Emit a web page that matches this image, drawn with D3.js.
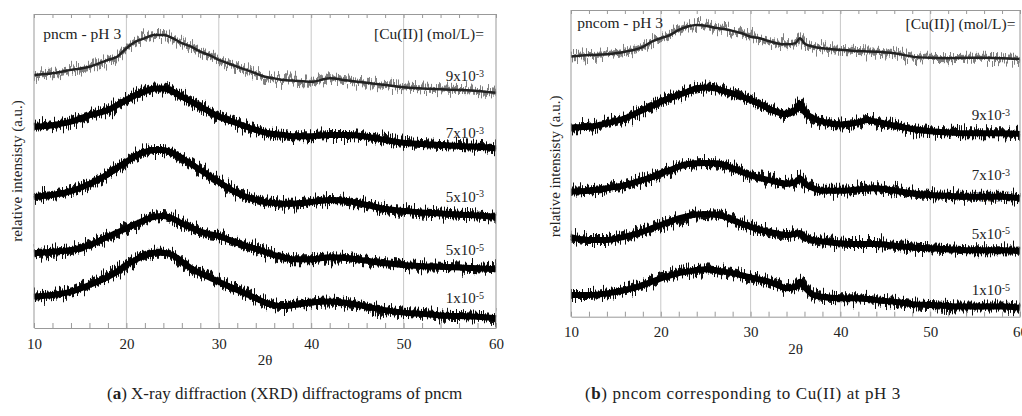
<!DOCTYPE html>
<html><head><meta charset="utf-8">
<script src="https://cdn.jsdelivr.net/npm/d3@7/dist/d3.min.js"></script>
<style>
html,body{margin:0;padding:0;background:#fff;}
svg{display:block;}
text{font-family:"Liberation Serif","Times New Roman",serif;fill:#222;}
</style></head>
<body>
<svg id="chart" width="1022" height="416">
  <defs>
    <filter id="jitterDark" x="-2%" y="-40%" width="104%" height="180%">
      <feTurbulence type="fractalNoise" baseFrequency="0.9 0.02" numOctaves="2" seed="4" result="t"/>
      <feColorMatrix in="t" type="matrix" values="1 0 0 0 0  0 0 0 0 0.5  0 0 0 0 0.5  0 0 0 0 1" result="m"/>
      <feDisplacementMap in="SourceGraphic" in2="m" scale="20" xChannelSelector="G" yChannelSelector="R"/>
    </filter>
    <filter id="jitterLight" x="-2%" y="-40%" width="104%" height="180%">
      <feTurbulence type="fractalNoise" baseFrequency="0.8 0.02" numOctaves="2" seed="9" result="t"/>
      <feColorMatrix in="t" type="matrix" values="1 0 0 0 0  0 0 0 0 0.5  0 0 0 0 0.5  0 0 0 0 1" result="m"/>
      <feDisplacementMap in="SourceGraphic" in2="m" scale="22" xChannelSelector="G" yChannelSelector="R"/>
    </filter>
  </defs>
</svg>
<script>
// ---------- DATA ----------
const xTicks = [10, 20, 30, 40, 50, 60];

// Panel (a) pncm - pH 3
const thetaA = [10,12,14,16,18,19,20,21,22,23,24,25,26,27,28,29,30,31,32,33,34,35,36,37,38,40,42,44,46,48,50,52,54,56,58,60];
const a_9e3 = [80.6,81.1,82.2,83.2,85.4,86.4,89.1,91.2,92.3,93.3,93.3,92.3,90.7,89.6,88.0,86.9,85.4,84.3,83.2,82.2,81.1,80.0,79.5,79.0,78.8,78.4,79.5,78.8,78.1,77.4,76.7,76.3,76.0,75.8,75.5,74.9];
const a_7e3 = [64.1,64.6,65.7,67.8,69.4,71.0,72.6,74.2,75.3,76.3,76.3,75.3,73.7,72.1,70.5,68.9,67.3,66.2,65.2,64.1,63.1,62.2,61.8,61.5,61.1,61.1,61.5,61.5,60.9,59.9,59.0,58.6,58.3,58.0,57.7,57.2];
const a_5e3 = [41.7,42.4,43.6,45.9,49.0,51.0,52.9,54.8,56.1,56.7,56.7,55.7,54.1,52.2,50.3,48.4,46.5,44.6,43.0,41.7,40.8,40.1,39.8,39.6,39.6,40.1,40.8,40.4,39.2,37.9,37.3,36.8,36.5,36.1,35.8,35.4];
const a_5e5 = [23.8,24.3,24.8,26.4,29.1,30.4,31.8,33.1,34.4,35.4,35.7,34.9,33.3,32.0,30.7,29.9,29.3,28.2,27.1,26.1,25.2,24.2,23.2,22.5,21.9,21.9,22.5,22.2,21.4,20.6,20.1,19.7,19.5,19.3,19.0,18.7];
const a_1e5 = [10.0,10.5,11.6,13.7,16.3,17.9,20.1,21.7,23.2,24.0,24.0,23.2,21.1,19.0,17.4,16.1,14.7,13.4,12.1,10.8,9.5,8.1,7.3,7.0,7.3,8.1,8.4,7.9,6.8,5.7,4.9,4.5,4.0,3.8,3.6,3.1];

// Panel (b) pncom - pH 3
const thetaB = [10,12,14,16,18,19,20,21,22,23,24,25,26,27,28,29,30,31,32,33,34,35,35.5,36,37,38,40,42,43,44,46,48,50,52,54,56,58,60];
const b_top = [84.8,85.3,85.6,86.4,88.0,89.7,90.8,91.8,93.5,94.6,95.1,94.9,94.2,93.8,93.2,92.4,91.3,90.8,89.9,89.1,88.8,89.2,90.8,89.1,88.0,87.5,87.0,86.6,86.5,86.4,85.9,84.8,84.4,84.3,84.4,84.4,84.3,84.0];
const b_9e3 = [61.7,61.9,63.1,64.7,67.4,68.7,70.1,71.3,72.3,73.4,74.5,74.7,74.5,73.6,72.8,71.8,70.7,69.4,67.9,66.7,66.1,67.4,69.4,66.8,64.7,63.6,62.7,63.4,64.1,63.6,62.3,61.2,60.5,60.1,59.8,59.8,59.8,59.6];
const b_7e3 = [40.8,41.1,41.9,42.9,44.6,45.5,46.8,47.8,48.9,49.8,50.0,50.1,50.0,49.5,48.4,47.2,46.2,45.2,44.6,43.9,43.3,43.9,45.1,43.5,41.9,41.1,41.1,41.5,41.8,41.9,41.1,40.2,39.7,39.4,39.1,39.1,39.1,38.6];
const b_5e5 = [25.9,25.0,25.0,26.1,27.7,28.8,29.9,31.0,32.1,32.8,33.3,33.5,33.3,32.7,31.5,30.4,29.3,28.4,27.7,27.1,26.6,27.0,27.3,25.9,25.0,24.5,23.9,23.7,23.7,23.7,23.1,22.6,22.3,22.0,21.7,21.7,21.7,21.5];
const b_1e5 = [7.1,7.1,7.6,8.7,10.3,11.4,12.5,13.4,14.2,14.7,15.2,15.5,15.2,14.7,14.2,13.5,12.8,12.1,11.4,10.3,9.3,9.7,11.4,9.7,7.1,6.5,6.0,6.0,5.8,5.4,4.9,4.1,3.8,3.5,3.3,3.3,3.3,2.9];

// Labels: [text mantissa, exponent, theta, intensity]
const labelsA = [["9x10","-3",58.7,80.3],["7x10","-3",58.7,62.1],["5x10","-3",58.7,41.8],["5x10","-5",58.7,24.8],["1x10","-5",58.7,9.6]];
const labelsB = [["9x10","-3",58.9,65.8],["7x10","-3",58.9,46.2],["5x10","-5",58.9,27.2],["1x10","-5",58.9,8.7]];

// ---------- DRAW ----------
const svg = d3.select("#chart");

function panel(cfg) {
  const x = d3.scaleLinear().domain([10, 60]).range([cfg.x0, cfg.x1]);
  const y = d3.scaleLinear().domain([0, 100]).range([cfg.yb, cfg.yt]);
  const g = svg.append("g");

  // grid
  g.selectAll(".grid").data([20,30,40,50]).enter().append("line")
    .attr("x1", d => x(d)).attr("x2", d => x(d))
    .attr("y1", cfg.yt).attr("y2", cfg.yb)
    .attr("stroke", "#c8c8c8").attr("stroke-width", 1);

  // ghost label (behind curves)
  if (cfg.ghost) {
    const t = g.append("text").attr("x", x(cfg.ghost[2])).attr("y", y(cfg.ghost[3]))
      .attr("text-anchor","end").attr("dy","0.35em").style("font-size","15px").style("fill","#888");
    t.append("tspan").text(cfg.ghost[0]);
    t.append("tspan").text(cfg.ghost[1]).attr("dy","-0.45em").style("font-size","10px");
  }

  const line = d3.line().x((d,i) => x(cfg.theta[i])).y(d => y(d)).curve(d3.curveMonotoneX);

  cfg.series.forEach((s, k) => {
    const light = k === 0;
    g.append("path").attr("d", line(s)).attr("fill","none")
      .attr("stroke", light ? "#808080" : "#111")
      .attr("stroke-width", light ? 6 : 8).attr("stroke-linejoin","round")
      .attr("filter", light ? "url(#jitterLight)" : "url(#jitterDark)");
    g.append("path").attr("d", line(s)).attr("fill","none")
      .attr("stroke", light ? "#222" : "#000")
      .attr("stroke-width", light ? 2.5 : 6).attr("stroke-linejoin","round");
  });

  // axes (inward ticks)
  const bottom = d3.axisBottom(x).tickValues(d3.range(10, 61, 2))
    .tickSizeInner(-5).tickSizeOuter(0).tickPadding(10)
    .tickFormat(d => xTicks.includes(d) ? d : "");
  const ga = g.append("g").attr("transform", `translate(0,${cfg.yb})`).call(bottom);
  ga.selectAll("text").style("font-size","15px").style("font-family","Liberation Serif, serif").attr("fill","#222");
  const top = d3.axisTop(x).tickValues(d3.range(10, 61, 2)).tickSizeInner(-4).tickSizeOuter(0).tickFormat("");
  const gt = g.append("g").attr("transform", `translate(0,${cfg.yt})`).call(top);
  [ga, gt].forEach(a => { a.selectAll("line").attr("stroke","#999"); a.select(".domain").attr("stroke","#999"); });
  // side frame
  g.append("line").attr("x1", cfg.x0).attr("x2", cfg.x0).attr("y1", cfg.yt).attr("y2", cfg.yb).attr("stroke","#999");
  g.append("line").attr("x1", cfg.x1).attr("x2", cfg.x1).attr("y1", cfg.yt).attr("y2", cfg.yb).attr("stroke","#999");

  // axis titles
  g.append("text").attr("x", (cfg.x0 + cfg.x1) / 2).attr("y", cfg.yb + 32).attr("dy","0.35em")
    .attr("text-anchor","middle").style("font-size","15px").text("2θ");
  g.append("text").attr("transform", `translate(${cfg.ylx},${(cfg.yt + cfg.yb) / 2 + cfg.yly}) rotate(-90)`)
    .attr("text-anchor","middle").attr("dy","0.35em").style("font-size","15px").text("relative intensisty (a.u.)");

  // panel texts
  g.append("text").attr("x", x(cfg.title[1])).attr("y", y(cfg.title[2])).attr("dy","0.35em")
    .style("font-size","15.5px").text(cfg.title[0]);
  g.append("text").attr("x", x(cfg.cu[0])).attr("y", y(cfg.cu[1])).attr("dy","0.35em")
    .attr("text-anchor","end").style("font-size","15.5px").text("[Cu(II)] (mol/L)=");

  cfg.labels.forEach(l => {
    const t = g.append("text").attr("x", x(l[2])).attr("y", y(l[3]))
      .attr("text-anchor","end").attr("dy","0.35em").style("font-size","15px");
    t.append("tspan").text(l[0]);
    t.append("tspan").text(l[1]).attr("dy","-0.45em").style("font-size","10px");
  });
}

panel({x0:34, x1:496, yt:14, yb:328, theta: thetaA,
  series:[a_9e3, a_7e3, a_5e3, a_5e5, a_1e5], labels: labelsA,
  title:["pncm - pH 3", 11.0, 93.9], cu:[58.7, 93.9], ylx:17, yly:0});
panel({x0:571, x1:1020, yt:10, yb:316.7, theta: thetaB,
  series:[b_top, b_9e3, b_7e3, b_5e5, b_1e5], labels: labelsB,
  title:["pncom - pH 3", 10.7, 95.9], cu:[59.5, 95.7], ylx:555, yly:3,
  ghost:["7x10","-3",58.9,39.0]});

// captions
const capA = svg.append("text").attr("x", 107).attr("y", 399).style("font-size","17px");
capA.append("tspan").text("(");
capA.append("tspan").text("a").style("font-weight","bold");
capA.append("tspan").text(") X-ray diffraction (XRD) diffractograms of pncm");
const capB = svg.append("text").attr("x", 585).attr("y", 399).style("font-size","17px").style("letter-spacing","0.6px");
capB.append("tspan").text("(");
capB.append("tspan").text("b").style("font-weight","bold");
capB.append("tspan").text(") pncom corresponding to Cu(II) at pH 3");
</script>
</body></html>
